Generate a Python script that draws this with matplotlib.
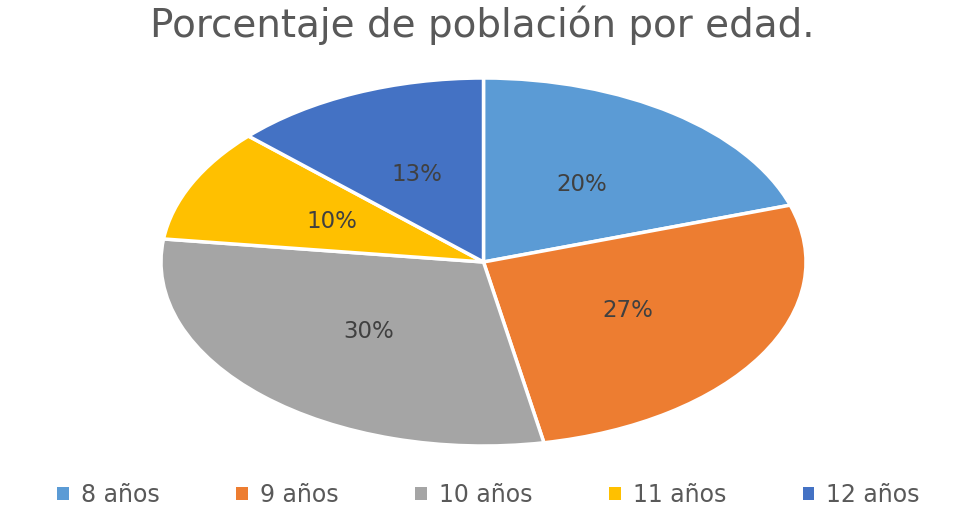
import matplotlib
matplotlib.use("Agg")
import matplotlib.pyplot as plt
from matplotlib.patches import Patch

# data
ages = ["8 años", "9 años", "10 años", "11 años", "12 años"]
shares = [20, 27, 30, 10, 13]
colors = ["#5B9BD5", "#ED7D31", "#A5A5A5", "#FFC000", "#4472C4"]

plt.rcParams["font.family"] = ["DejaVu Sans"]

fig = plt.figure(figsize=(9.71, 5.31), dpi=100)
# pie is drawn stretched, like the original
ax = fig.add_axes([161 / 971, 1 - 446 / 531, 645 / 971, 368 / 531])

wedges, texts, autotexts = ax.pie(
    shares,
    colors=colors,
    startangle=90,
    counterclock=False,
    autopct="%d%%",
    pctdistance=0.52,
    wedgeprops=dict(edgecolor="white", linewidth=2.5),
    textprops=dict(color="#404040", fontsize=16.5),
)
ax.set_aspect("auto")
ax.set_xlim(-1.0, 1.0)
ax.set_ylim(-1.0, 1.0)

fig.text(0.497, 0.952, "Porcentaje de población por edad.",
         ha="center", va="center", fontsize=28, color="#595959")

handles = [Patch(facecolor=c, edgecolor="none") for c in colors]
fig.legend(handles, ages, loc="center", bbox_to_anchor=(0.503, 0.068),
           ncol=5, frameon=False, fontsize=17, labelcolor="#595959",
           handlelength=0.5, handleheight=0.5, handletextpad=0.5,
           columnspacing=3.25)

fig.savefig("out.png", dpi=100, facecolor="white")
